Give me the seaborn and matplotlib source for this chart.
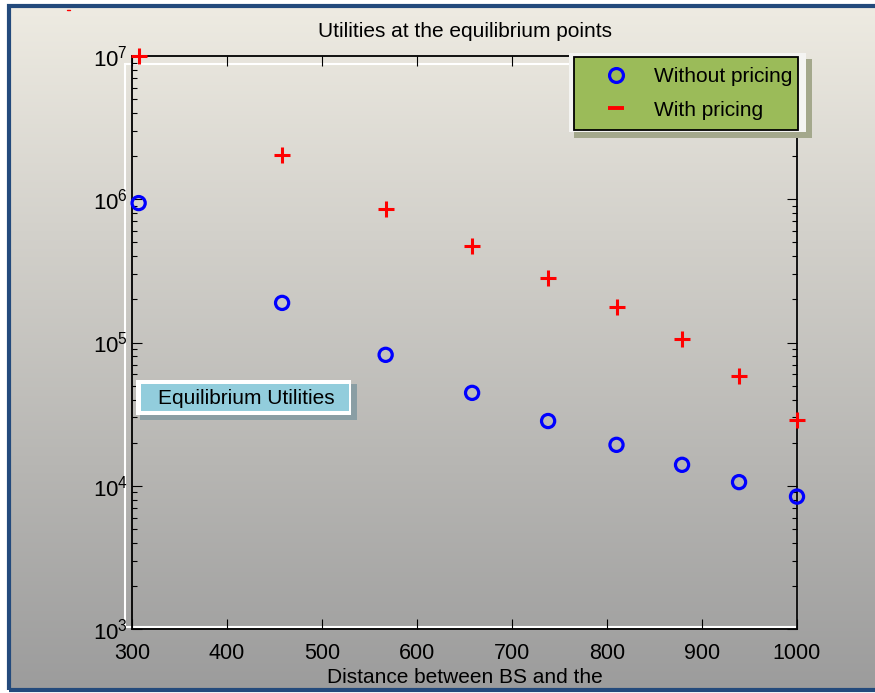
import numpy as np
import pandas as pd
import matplotlib
matplotlib.use("Agg")
import matplotlib.pyplot as plt
import seaborn as sns
from matplotlib.patches import Rectangle
from matplotlib.lines import Line2D

# data
distance = [307, 458, 567, 658, 738, 810, 879, 939, 1000]
without_pricing = [9.4e5, 1.89e5, 8.2e4, 4.45e4, 2.83e4, 1.93e4, 1.40e4, 1.06e4, 8.4e3]
with_pricing = [1.0e7, 2.04e6, 8.5e5, 4.7e5, 2.82e5, 1.77e5, 1.06e5, 5.85e4, 2.9e4]
x_ticks = [300, 400, 500, 600, 700, 800, 900, 1000]
y_ticks = [1e3, 1e4, 1e5, 1e6, 1e7]

df = pd.DataFrame({"distance": distance,
                   "without": without_pricing,
                   "with": with_pricing})

sns.set_style("ticks")
plt.rcParams["font.family"] = ["Liberation Sans", "DejaVu Sans"]
plt.rcParams["mathtext.fontset"] = "custom"
plt.rcParams["mathtext.rm"] = "Liberation Sans"
plt.rcParams["mathtext.it"] = "Liberation Sans"
for key in ["text.color", "axes.labelcolor", "xtick.color", "ytick.color"]:
    plt.rcParams[key] = "black"

W, H = 875, 693
fig = plt.figure(figsize=(W / 100, H / 100), dpi=100)
fig.patch.set_facecolor("white")

def fx(px):
    return px / W

def fy(py):
    return 1 - py / H

# gradient background inside the blue frame (frame runs off the right edge)
bg = fig.add_axes([fx(9), fy(690), 1.05, fy(6) - fy(690)], zorder=0)
top = np.array([238, 235, 226]) / 255
bot = np.array([156, 156, 156]) / 255
t = np.linspace(0, 1, 256)[:, None]
grad = (top[None, :] * (1 - t) + bot[None, :] * t)[:, None, :]
bg.imshow(grad, aspect="auto", extent=[0, 1, 0, 1])
bg.set_axis_off()
bg.add_patch(Rectangle((0, 0), 1, 1, transform=bg.transAxes, fill=False,
                       edgecolor="#234a7c", linewidth=3, clip_on=False))

# white offset line behind the axes
fig.patches.append(Rectangle((fx(125), fy(627)), fx(797) - fx(125), fy(64) - fy(627),
                             transform=fig.transFigure, fill=False,
                             edgecolor="white", linewidth=1.5, zorder=1))

ax = fig.add_axes([fx(132), fy(629), fx(797) - fx(132), fy(56) - fy(629)], zorder=2)
ax.set_facecolor("none")

sns.scatterplot(data=df, x="distance", y="without", ax=ax, marker="o",
                s=90, facecolor="none", edgecolor="blue", linewidth=2.3,
                clip_on=False, zorder=5)
sns.scatterplot(data=df, x="distance", y="with", ax=ax, marker="+",
                s=120, color="red", linewidth=2.2, clip_on=False, zorder=5)

ax.set_yscale("log")
ax.set_xlim(300, 1000)
ax.set_ylim(1e3, 1e7)
ax.set_xticks(x_ticks)
ax.set_xticklabels([str(v) for v in x_ticks], fontsize=15.5)
ax.set_yticks(y_ticks)
ax.set_yticklabels([r"$10^{%d}$" % int(np.log10(v)) for v in y_ticks], fontsize=16)
ax.tick_params(direction="in", top=True, right=True, which="both", length=7, width=0.8)
ax.tick_params(which="minor", length=3.5)
ax.tick_params(axis="x", pad=10)
ax.tick_params(axis="y", pad=3)
for s in ax.spines.values():
    s.set_linewidth(1.3)
    s.set_color("black")

ax.set_xlabel("Distance between BS and the", fontsize=15, labelpad=3)
ax.set_ylabel("")
ax.set_title("Utilities at the equilibrium points", fontsize=15, pad=14)

# legend with white frame and shadow
fig.patches.append(Rectangle((fx(574), fy(138)), fx(812) - fx(574), fy(59) - fy(138),
                             transform=fig.transFigure, facecolor="#a4a88c",
                             edgecolor="none", zorder=3))
fig.patches.append(Rectangle((fx(569), fy(132)), fx(806) - fx(569), fy(53) - fy(132),
                             transform=fig.transFigure, facecolor="#f4f4f2",
                             edgecolor="none", zorder=3))
handles = [Line2D([], [], marker="o", linestyle="none", markerfacecolor="none",
                  markeredgecolor="blue", markeredgewidth=2.3, markersize=10),
           Line2D([], [], marker="_", linestyle="none", color="red",
                  markeredgewidth=2.8, markersize=11)]
leg = fig.legend(handles, ["Without pricing", "With pricing"],
                 loc="upper left",
                 bbox_to_anchor=(fx(574), fy(57) - 0.2, fx(798) - fx(574), 0.2),
                 bbox_transform=fig.transFigure, mode="expand", fontsize=15,
                 frameon=True, fancybox=False, borderpad=0.5,
                 handlelength=3.0, handletextpad=0.35, borderaxespad=0,
                 labelspacing=0.68)
leg.set_zorder(4)
frame = leg.get_frame()
frame.set_facecolor("#9bbb59")
frame.set_edgecolor("black")
frame.set_linewidth(1.3)
frame.set_alpha(1)

# "Equilibrium Utilities" label box with shadow
fig.patches.append(Rectangle((fx(140), fy(420)), fx(357) - fx(140), fy(384) - fy(420),
                             transform=fig.transFigure, facecolor="#8a9ea4",
                             edgecolor="none", zorder=3))
fig.patches.append(Rectangle((fx(136), fy(415)), fx(351) - fx(136), fy(380) - fy(415),
                             transform=fig.transFigure, facecolor="white",
                             edgecolor="none", zorder=3))
fig.patches.append(Rectangle((fx(141), fy(411)), fx(349) - fx(141), fy(384) - fy(411),
                             transform=fig.transFigure, facecolor="#92cddc",
                             edgecolor="none", zorder=3))
fig.text(fx(246), fy(398), "Equilibrium Utilities", fontsize=15,
         ha="center", va="center", zorder=4)

# small red dash at the top left
fig.add_artist(Line2D([fx(67), fx(70)], [fy(10), fy(10)], color="red", linewidth=1))

fig.savefig("out.png", dpi=100)
